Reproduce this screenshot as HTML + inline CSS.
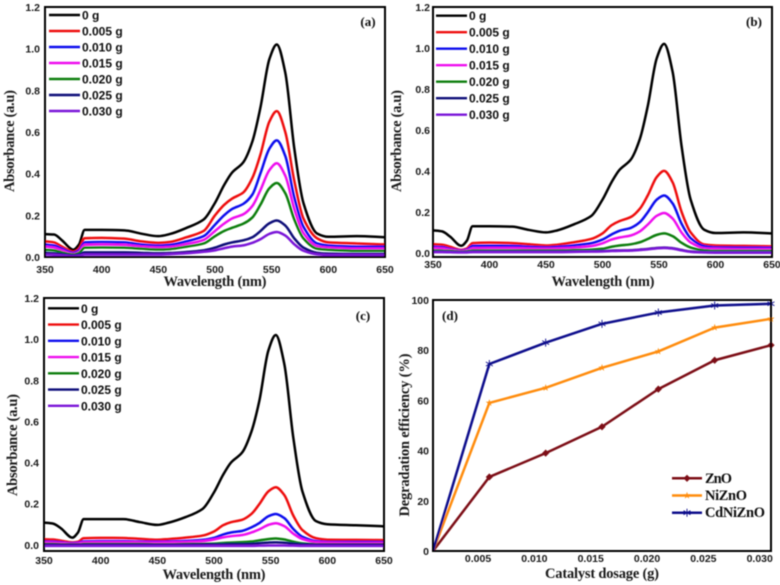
<!DOCTYPE html>
<html>
<head>
<meta charset="utf-8">
<title>Absorbance spectra and degradation efficiency</title>
<style>
html,body{margin:0;padding:0;background:#fff;width:780px;height:585px;overflow:hidden}
svg{display:block}
.tick{font:bold 10.5px "Liberation Sans",sans-serif;fill:#1a1a1a}
.leg{font:bold 12px "Liberation Sans",sans-serif;fill:#111}
.title{font:bold 14.5px "Liberation Serif",serif;fill:#1a1a1a}
.plabel{font:bold 13px "Liberation Serif",serif;fill:#111}
.dleg{font:bold 14.5px "Liberation Serif",serif;fill:#111}
</style>
</head>
<body>
<svg id="root" xmlns="http://www.w3.org/2000/svg" width="780" height="585" viewBox="0 0 780 585">
<defs><filter id="soft" x="0" y="0" width="100%" height="100%"><feGaussianBlur stdDeviation="0.45"/></filter></defs>
<rect width="780" height="585" fill="#fff"/>
<g id="content" filter="url(#soft)"></g>
</svg>
<script>
const wavelengths=[350,358,365,375,380,385,400,420,435,450,460,475,490,500,508,515,525,533,540,548,554.5,562,570,578,590,600,625,650];
const doseLabels=["0 g","0.005 g","0.010 g","0.015 g","0.020 g","0.025 g","0.030 g"];
const yTicksAbs=[0,0.2,0.4,0.6,0.8,1.0,1.2];
const xTicksWave=[350,400,450,500,550,600,650];

const a0=[.11,.108,.08,.035,.06,.13,.13,.128,.112,.10,.11,.14,.18,.26,.345,.405,.455,.555,.715,.95,1.02,.885,.52,.26,.113,.097,.10,.095];
const a1=[.075,.07,.05,.025,.04,.09,.092,.088,.075,.068,.072,.095,.125,.20,.25,.28,.31,.38,.49,.65,.70,.60,.365,.185,.09,.07,.065,.06];
const a2=[.06,.055,.04,.02,.032,.07,.072,.07,.06,.055,.058,.075,.10,.155,.20,.23,.255,.30,.40,.52,.56,.485,.285,.145,.065,.055,.05,.05];
const a3=[.05,.045,.032,.015,.025,.058,.06,.058,.05,.046,.048,.062,.082,.125,.16,.185,.205,.245,.32,.417,.45,.39,.23,.115,.052,.045,.04,.04];
const a4=[.035,.032,.022,.012,.02,.045,.046,.045,.04,.036,.038,.05,.065,.10,.125,.14,.16,.19,.25,.33,.355,.306,.18,.09,.04,.035,.03,.03];
const a5=[.02,.018,.014,.008,.012,.022,.022,.022,.02,.018,.019,.024,.032,.045,.06,.07,.08,.095,.124,.162,.175,.151,.089,.045,.02,.016,.015,.015];
const a6=[.012,.011,.008,.004,.006,.012,.012,.012,.012,.012,.014,.018,.025,.032,.042,.05,.056,.068,.085,.111,.12,.103,.061,.03,.013,.01,.01,.01];

const b0=[.11,.105,.08,.035,.06,.13,.13,.128,.112,.10,.11,.14,.18,.26,.345,.405,.455,.555,.715,.95,1.02,.885,.52,.26,.113,.097,.10,.095];
const b1=[.042,.04,.03,.015,.022,.048,.05,.048,.042,.036,.04,.052,.068,.095,.135,.155,.175,.215,.28,.37,.40,.345,.20,.10,.041,.036,.034,.032];
const b2=[.03,.028,.02,.012,.016,.034,.035,.034,.03,.027,.03,.037,.047,.065,.09,.108,.122,.15,.198,.26,.28,.242,.142,.072,.033,.027,.026,.025];
const b3=[.024,.022,.016,.01,.013,.022,.024,.024,.022,.02,.022,.026,.033,.047,.065,.075,.085,.105,.138,.181,.195,.168,.099,.051,.023,.02,.018,.018];
const b4=[.012,.011,.01,.006,.008,.012,.012,.012,.012,.012,.012,.014,.016,.02,.03,.036,.042,.052,.068,.088,.095,.082,.049,.026,.013,.01,.01,.01];
const b5=[.006,.006,.005,.004,.004,.006,.006,.006,.006,.006,.006,.007,.008,.009,.011,.012,.013,.016,.019,.024,.026,.023,.014,.007,.004,.003,.003,.003];
const b6=[.004,.004,.003,.002,.002,.004,.004,.004,.004,.004,.004,.005,.006,.007,.009,.01,.011,.014,.017,.022,.024,.021,.012,.005,.002,.001,.001,.001];

const c0=[.108,.103,.08,.035,.06,.125,.125,.125,.11,.097,.108,.135,.175,.255,.34,.40,.45,.55,.70,.945,1.02,.88,.52,.26,.115,.10,.095,.09];
const c1=[.027,.026,.02,.012,.015,.032,.034,.033,.029,.025,.028,.035,.045,.065,.095,.11,.122,.15,.198,.26,.28,.242,.142,.072,.032,.025,.024,.023];
const c2=[.016,.015,.012,.008,.01,.017,.018,.018,.016,.015,.016,.019,.024,.034,.05,.06,.068,.085,.106,.139,.15,.13,.077,.039,.018,.014,.014,.013];
const c3=[.012,.011,.009,.006,.007,.012,.013,.013,.012,.011,.012,.014,.018,.026,.036,.042,.048,.06,.075,.097,.105,.091,.054,.028,.013,.01,.009,.009];
const c4=[.004,.004,.003,.002,.002,.004,.004,.004,.004,.003,.003,.004,.005,.006,.009,.011,.013,.016,.022,.028,.031,.026,.015,.007,.003,.002,.002,.002];
const c5=[.001,.001,.001,.001,.001,.001,.001,.001,.001,.001,.001,.001,.002,.002,.003,.004,.004,.005,.008,.011,.012,.01,.006,.003,.001,.001,.001,.001];
const c6=[-.005,-.005,-.005,-.005,-.005,-.005,-.005,-.005,-.005,-.005,-.005,-.005,-.005,-.005,-.005,-.005,-.005,-.005,-.004,-.003,-.003,-.003,-.004,-.005,-.005,-.005,-.005,-.005];

const dosages=[0.001,0.006,0.011,0.016,0.021,0.026,0.031];
const zno=[0,29.5,39,49.5,64.5,76,82];
const nizno=[0,59,65,73,79.5,89,92.5];
const cdnizno=[0,74.5,83,90.5,95,97.8,98.5];
const xTicksDose=[0.005,0.010,0.015,0.020,0.025,0.030];
const yTicksEff=[0,20,40,60,80,100];

const colors=["#000000","#ee1111","#1111ee","#ee11ee","#0f7f0f","#0a0a78","#7a14d8"];
const NS="http://www.w3.org/2000/svg";
const content=document.getElementById("content");

function mk(tag,attrs,parent,txt){
  const e=document.createElementNS(NS,tag);
  for(const k in attrs)e.setAttribute(k,attrs[k]);
  if(txt!==undefined)e.textContent=txt;
  parent.appendChild(e);
  return e;
}
function linear(d0,d1,r0,r1){return v=>r0+(v-d0)/(d1-d0)*(r1-r0);}
function smoothPath(pts){
  const n=pts.length;
  const sec=[];
  for(let i=0;i<n-1;i++)sec.push((pts[i+1][1]-pts[i][1])/(pts[i+1][0]-pts[i][0]));
  const slope=i=>{
    if(i===0)return sec[0];
    if(i===n-1)return sec[n-2];
    const a=sec[i-1],b=sec[i];
    if(a*b<=0){
      return (pts[i][1]<pts[i-1][1]&&pts[i][1]<pts[i+1][1])||(pts[i][1]>pts[i-1][1]&&pts[i][1]>pts[i+1][1])?0:0;
    }
    return 2*a*b/(a+b);
  };
  let d="M"+pts[0][0].toFixed(2)+" "+pts[0][1].toFixed(2);
  for(let i=0;i<n-1;i++){
    const p1=pts[i],p2=pts[i+1],h=(p2[0]-p1[0])/3;
    d+=" C"+(p1[0]+h).toFixed(2)+" "+(p1[1]+slope(i)*h).toFixed(2)+" "+
       (p2[0]-h).toFixed(2)+" "+(p2[1]-slope(i+1)*h).toFixed(2)+" "+
       p2[0].toFixed(2)+" "+p2[1].toFixed(2);
  }
  return d;
}

function spectrum(cfg){
  const g=mk("g",{},content);
  
  
  const x=linear(350,650,cfg.l,cfg.r);
  const y=linear(cfg.yMin,1.2,cfg.b,cfg.t);
  cfg.series.forEach((vals,si)=>{
    const pts=vals.map((v,i)=>[x(wavelengths[i]),y(v)]);
    const p=mk("path",{d:smoothPath(pts),fill:"none",stroke:colors[si],"stroke-width":2.5,"stroke-linejoin":"round"},g);
    
    
  });
  const frame=mk("rect",{x:cfg.l,y:cfg.t,width:cfg.r-cfg.l,height:cfg.b-cfg.t,fill:"none",stroke:"#000","stroke-width":2},g);
  
  
  yTicksAbs.forEach(v=>{
    const t=mk("text",{x:cfg.yLabelX,y:y(v)+4,class:"tick","text-anchor":"end"},g,v.toFixed(1));
    
    
  });
  xTicksWave.forEach(v=>{
    const t=mk("text",{x:x(v),y:cfg.xLabelY,class:"tick","text-anchor":"middle"},g,String(v));
    
    
  });
  const xt=mk("text",{x:cfg.xTitle[0],y:cfg.xTitle[1],class:"title","text-anchor":"middle",textLength:103,lengthAdjust:"spacing"},g,"Wavelength (nm)");
  
  
  const yt=mk("text",{transform:"translate("+cfg.yTitle[0]+","+cfg.yTitle[1]+") rotate(-90)",class:"title","text-anchor":"middle",textLength:102,lengthAdjust:"spacing"},g,"Absorbance (a.u)");
  
  
  const pl=mk("text",{x:cfg.tag[0],y:cfg.tag[1],class:"plabel","text-anchor":"middle"},g,"("+cfg.id+")");
  
  
  const lg=mk("g",{},g);
  
  
  doseLabels.forEach((lab,i)=>{
    const ry=cfg.legY+i*cfg.legDy;
    const ln=mk("line",{x1:cfg.legX,x2:cfg.legX+31,y1:ry,y2:ry,stroke:colors[i],"stroke-width":2.4},lg);
    
    
    const tx=mk("text",{x:cfg.legX+33,y:ry+4.5,class:"leg"},lg,lab);
    
    
  });
}

spectrum({id:"a",l:45,r:385,t:7,b:257,yMin:0,yLabelX:40,xLabelY:273,xTitle:[215,286],yTitle:[14,141],tag:[368,26],legX:49,legY:15,legDy:16,series:[a0,a1,a2,a3,a4,a5,a6]});
spectrum({id:"b",l:433,r:772,t:7,b:257,yMin:-0.02,yLabelX:430,xLabelY:268,xTitle:[603,286],yTitle:[401,141],tag:[754,26],legX:436,legY:15.7,legDy:16.5,series:[b0,b1,b2,b3,b4,b5,b6]});
spectrum({id:"c",l:44,r:384,t:298,b:551,yMin:-0.03,yLabelX:39,xLabelY:564,xTitle:[214,579],yTitle:[17,445],tag:[363,320],legX:48,legY:308.3,legDy:16.25,series:[c0,c1,c2,c3,c4,c5,c6]});

function marker(kind,px,py,color,parent){
  let el;
  if(kind==="diamond"){
    const s=3.6;
    el=mk("polygon",{points:[[px,py-s],[px+s,py],[px,py+s],[px-s,py]].join(" "),fill:color},parent);
  }else if(kind==="star"){
    const pts=[];
    for(let i=0;i<10;i++){
      const r=i%2?1.4:3.8,a=-Math.PI/2+i*Math.PI/5;
      pts.push([px+r*Math.cos(a),py+r*Math.sin(a)]);
    }
    el=mk("polygon",{points:pts.join(" "),fill:color},parent);
  }else{
    let d="";
    for(let i=0;i<3;i++){
      const a=Math.PI/2+i*Math.PI/3,r=4;
      d+="M"+(px-r*Math.cos(a))+" "+(py-r*Math.sin(a))+"L"+(px+r*Math.cos(a))+" "+(py+r*Math.sin(a));
    }
    el=mk("path",{d:d,stroke:color,"stroke-width":0.9,fill:"none"},parent);
  }
  return el;
}

(function(){
  const l=433,r=771,t=300,b=551;
  const g=mk("g",{},content);
  
  
  const x=linear(0.001,0.031,l,r);
  const y=linear(0,100,b,t);
  const names=["ZnO","NiZnO","CdNiZnO"];
  const vals=[zno,nizno,cdnizno];
  const cols=["#7d0f14","#ff8c0a","#0c0c8c"];
  const kinds=["diamond","star","asterisk"];
  vals.forEach((s,si)=>{
    const pts=s.map((v,i)=>x(dosages[i]).toFixed(2)+","+y(v).toFixed(2));
    const pl=mk("polyline",{points:pts.join(" "),fill:"none",stroke:cols[si],"stroke-width":2.5,"stroke-linejoin":"round"},g);
    
    
    s.forEach((v,i)=>{
      if(i===0)return;
      const m=marker(kinds[si],x(dosages[i]),y(v),cols[si],g);
      
      
    });
  });
  const frame=mk("path",{d:"M"+l+" "+t+"H"+r+"V"+b+"H"+l+"Z",fill:"none",stroke:"#000","stroke-width":2},g);
  
  
  yTicksEff.forEach(v=>{
    const tx=mk("text",{x:429,y:y(v)+4,class:"tick","text-anchor":"end"},g,String(v));
    
    
  });
  xTicksDose.forEach(v=>{
    const tx=mk("text",{x:x(v),y:562,class:"tick","text-anchor":"middle"},g,v.toFixed(3));
    
    
  });
  const xt=mk("text",{x:602,y:578,class:"title","text-anchor":"middle",textLength:114,lengthAdjust:"spacing"},g,"Catalyst dosage (g)");
  
  
  const yt=mk("text",{transform:"translate(409,435) rotate(-90)",class:"title","text-anchor":"middle",textLength:163,lengthAdjust:"spacing"},g,"Degradation efficiency (%)");
  
  
  const pl=mk("text",{x:450,y:320,class:"plabel","text-anchor":"middle"},g,"(d)");
  
  
  const lg=mk("g",{},g);
  
  
  const widths=[27,42,60];
  names.forEach((n,i)=>{
    const ry=478.3+i*17.2;
    const ln=mk("line",{x1:672,x2:702,y1:ry,y2:ry,stroke:cols[i],"stroke-width":2.5},lg);
    
    
    const m=marker(kinds[i],687,ry,cols[i],lg);
    
    
    const tx=mk("text",{x:705,y:ry+4.5,class:"dleg",textLength:widths[i],lengthAdjust:"spacing"},lg,n);
    
    
  });
})();
</script>
</body>
</html>
